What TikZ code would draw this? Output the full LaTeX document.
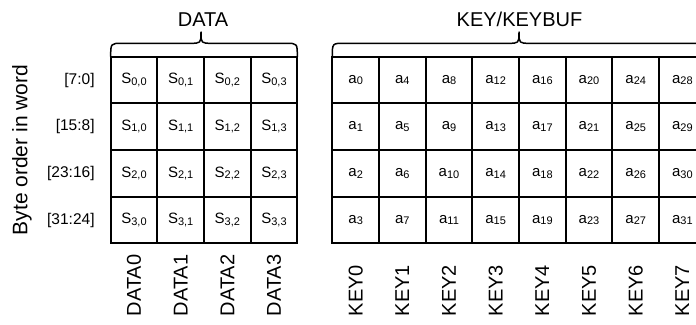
\documentclass[tikz,border=0pt]{standalone}
\usepackage{fontspec}
\setmainfont{Liberation Sans}
\usetikzlibrary{positioning}
\newcommand{\idx}[1]{\raisebox{-1.5pt}{\fontsize{11}{11}\selectfont #1}}

\begin{document}
\begin{tikzpicture}[
    x=1pt, y=-1pt,
    cell/.style={draw, line width=1.8pt, minimum width=46.67pt, minimum height=46.67pt, inner sep=0pt, font=\fontsize{15}{15}\selectfont},
    rowlbl/.style={inner sep=0pt, font=\fontsize{15.5}{16}\selectfont},
    collbl/.style={inner sep=0pt, rotate=90, anchor=west, font=\fontsize{20}{22}\selectfont},
    title/.style={inner sep=0pt, font=\fontsize{20}{22}\selectfont},
    brace/.style={line width=1.5pt, line cap=round, line join=round}
  ]
  \useasboundingbox (0,0) rectangle (696,324);

  % cells
  \foreach \r in {0,...,3} {
    \foreach \c in {0,...,3}
      \node[cell] (s\r\c) at ({134+46.67*\c},{80+46.67*\r}) {S\idx{\r,\c}};
    \foreach \c in {0,...,7} {
      \pgfmathtruncatemacro{\n}{4*\c+\r}
      \node[cell] (k\r\c) at ({355.67+46.67*\c},{80+46.67*\r}) {a\idx{\n}};
    }
  }

  % byte order
  \foreach \lbl [count=\r from 0] in {{[7:0]},{[15:8]},{[23:16]},{[31:24]}}
    \node[rowlbl, left=15pt of s\r0] (row\r) {\lbl};
  \node[title, rotate=90, font=\fontsize{21}{22}\selectfont] (side) at (22,150) {Byte order in word};

  % words
  \foreach \c in {0,...,3}
    \node[collbl] (data\c) at ([yshift=-72pt]s3\c.south) {DATA\c};
  \foreach \c in {0,...,7}
    \node[collbl] (key\c) at ([yshift=-72pt]k3\c.south) {KEY\c};

  % braces
  \draw[brace] (110.7,56.7) .. controls (110.7,43.3) .. (122,43.3) -- (190,43.3)
    .. controls (201,43.3) .. (201,32) .. controls (201,43.3) .. (212,43.3)
    -- (286,43.3) .. controls (297.3,43.3) .. (297.3,56.7);
  \draw[brace] (332.3,56.7) .. controls (332.3,43.3) .. (344,43.3) -- (508,43.3)
    .. controls (519,43.3) .. (519,32) .. controls (519,43.3) .. (530,43.3)
    -- (694,43.3) .. controls (705.7,43.3) .. (705.7,56.7);
  \node[title] (dtitle) at (203,20) {DATA};
  \node[title] (ktitle) at (519.5,19) {KEY/KEYBUF};
\end{tikzpicture}
\end{document}
